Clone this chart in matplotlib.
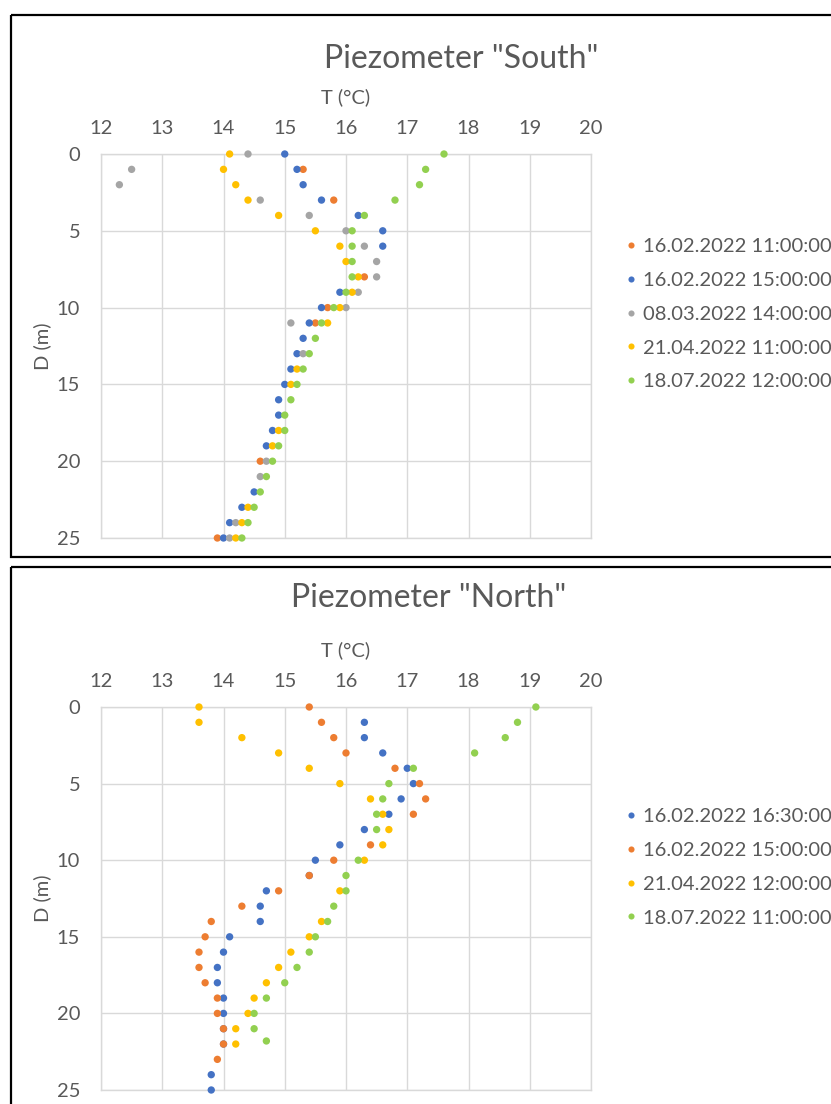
import numpy as np
import matplotlib
matplotlib.use('Agg')
import matplotlib.pyplot as plt
from matplotlib.lines import Line2D
from matplotlib.patches import Rectangle

plt.rcParams['font.family'] = ['Lato', 'DejaVu Sans']

W, H = 831, 1104
nan = np.nan

# depths in metres, one reading per metre
depth = np.arange(0, 26)

# Piezometer "South" temperatures (deg C), nan where no reading shows
south_labels = ['16.02.2022 11:00:00', '16.02.2022 15:00:00', '08.03.2022 14:00:00',
                '21.04.2022 11:00:00', '18.07.2022 12:00:00']
south_colors = ['#ED7D31', '#4472C4', '#A5A5A5', '#FFC000', '#92D050']
s_0216a = [nan, 15.3, nan, 15.8, nan, nan, nan, nan, 16.3, nan, 15.7, 15.5, nan,
           nan, nan, nan, nan, nan, nan, nan, 14.6, nan, nan, nan, nan, 13.9]
s_0216b = [15.0, 15.2, 15.3, 15.6, 16.2, 16.6, 16.6, nan, nan, 15.9, 15.6, 15.4, 15.3,
           15.2, 15.1, 15.0, 14.9, 14.9, 14.8, 14.7, nan, nan, 14.5, 14.3, 14.1, 14.0]
s_0308 = [14.4, 12.5, 12.3, 14.6, 15.4, 16.0, 16.3, 16.5, 16.5, 16.2, 16.0, 15.1, nan,
          15.3, nan, nan, nan, nan, nan, nan, 14.7, 14.6, nan, nan, 14.2, 14.1]
s_0421 = [14.1, 14.0, 14.2, 14.4, 14.9, 15.5, 15.9, 16.0, 16.2, 16.1, 15.9, 15.7, nan,
          nan, 15.2, 15.1, nan, nan, 14.9, 14.8, nan, nan, nan, 14.4, 14.3, 14.2]
s_0718 = [17.6, 17.3, 17.2, 16.8, 16.3, 16.1, 16.1, 16.1, 16.1, 16.0, 15.8, 15.6, 15.5,
          15.4, 15.3, 15.2, 15.1, 15.0, 15.0, 14.9, 14.8, 14.7, 14.6, 14.5, 14.4, 14.3]
south_series = [s_0216a, s_0216b, s_0308, s_0421, s_0718]

# Piezometer "North"
north_labels = ['16.02.2022 16:30:00', '16.02.2022 15:00:00',
                '21.04.2022 12:00:00', '18.07.2022 11:00:00']
north_colors = ['#4472C4', '#ED7D31', '#FFC000', '#92D050']
n_0216a = [nan, 16.3, 16.3, 16.6, 17.0, 17.1, 16.9, 16.7, 16.3, 15.9, 15.5, 15.4, 14.7,
           14.6, 14.6, 14.1, 14.0, 13.9, 13.9, 14.0, 14.0, 14.0, 14.0, nan, 13.8, 13.8]
n_0216b = [15.4, 15.6, 15.8, 16.0, 16.8, 17.2, 17.3, 17.1, nan, 16.4, 15.8, 15.4, 14.9,
           14.3, 13.8, 13.7, 13.6, 13.6, 13.7, 13.9, 13.9, 14.0, 14.0, 13.9, nan, nan]
n_0421 = [13.6, 13.6, 14.3, 14.9, 15.4, 15.9, 16.4, 16.6, 16.7, 16.6, 16.3, nan, 15.9,
          nan, 15.6, 15.4, 15.1, 14.9, 14.7, 14.5, 14.4, 14.2, 14.2, nan, nan, nan]
n_0718_depth = [0, 1, 2, 3, 4, 5, 6, 7, 8, 10, 11, 12, 13, 14, 15, 16, 17, 18, 19, 20, 21, 21.8]
n_0718 = [19.1, 18.8, 18.6, 18.1, 17.1, 16.7, 16.6, 16.5, 16.5, 16.2, 16.0, 16.0, 15.8,
          15.7, 15.5, 15.4, 15.2, 15.0, 14.7, 14.5, 14.5, 14.7]
north_series = [(depth, n_0216a), (depth, n_0216b), (depth, n_0421), (n_0718_depth, n_0718)]

txt = '#595959'
grid = '#D9D9D9'


def fx(x):
    return x / W


def fy(y):
    return 1 - y / H


fig = plt.figure(figsize=(W / 100, H / 100), dpi=100)

# chart borders
bg = fig.add_axes([0, 0, 1, 1], zorder=-1)
bg.set_xlim(0, W)
bg.set_ylim(H, 0)
bg.axis('off')
bg.add_patch(Rectangle((10.5, 14.5), 950, 542, fill=False, ec='black', lw=1.6))
bg.add_patch(Rectangle((10.5, 566.5), 950, 600, fill=False, ec='black', lw=1.6))


def make_axes(top, bottom):
    ax = fig.add_axes([fx(101), fy(bottom), fx(591) - fx(101), fy(top) - fy(bottom)])
    ax.set_xlim(12, 20)
    ax.set_ylim(25, 0)
    ax.set_xticks(np.arange(12, 21, 1))
    ax.set_yticks(np.arange(0, 26, 5))
    ax.xaxis.tick_top()
    ax.tick_params(length=0, labelsize=14.5, labelcolor=txt)
    ax.tick_params(axis='x', pad=12)
    ax.tick_params(axis='y', pad=15)
    ax.grid(True, color=grid, lw=1)
    ax.set_axisbelow(True)
    for sp in ax.spines.values():
        sp.set_color(grid)
        sp.set_linewidth(1)
    return ax


def legend(ax, labels, colors, x, y):
    handles = [Line2D([], [], ls='', marker='o', ms=4.4, color=c, mec='none') for c in colors]
    ax.legend(handles, labels, loc='upper left', bbox_to_anchor=(fx(x), fy(y)),
              bbox_transform=fig.transFigure, frameon=False, borderpad=0, borderaxespad=0,
              handlelength=0.45, handletextpad=0.4, labelspacing=0.83,
              prop={'size': 14.5}, labelcolor=txt)


# South
ax1 = make_axes(154, 538)
for vals, c in zip(south_series, south_colors):
    ax1.scatter(vals, depth, s=28, color=c, edgecolors='none', clip_on=False, zorder=3)
legend(ax1, south_labels, south_colors, 626, 238)
fig.text(fx(461), fy(59), 'Piezometer "South"', ha='center', va='center', fontsize=23, color=txt)
fig.text(fx(346), fy(97), 'T (°C)', ha='center', va='center', fontsize=14.5, color=txt)
fig.text(fx(42), fy(346), 'D (m)', ha='center', va='center', rotation=90, fontsize=14.5, color=txt)

# North
ax2 = make_axes(707, 1090)
for (d, vals), c in zip(north_series, north_colors):
    ax2.scatter(vals, d, s=28, color=c, edgecolors='none', clip_on=False, zorder=3)
legend(ax2, north_labels, north_colors, 626, 808)
fig.text(fx(429), fy(598), 'Piezometer "North"', ha='center', va='center', fontsize=23, color=txt)
fig.text(fx(346), fy(650), 'T (°C)', ha='center', va='center', fontsize=14.5, color=txt)
fig.text(fx(42), fy(898), 'D (m)', ha='center', va='center', rotation=90, fontsize=14.5, color=txt)

fig.savefig('out.png', dpi=100)
